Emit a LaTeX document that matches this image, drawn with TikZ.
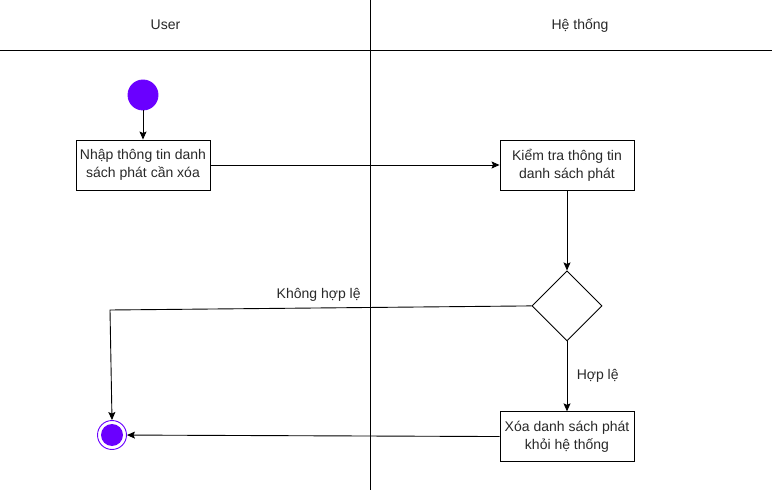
\documentclass[tikz,border=0pt]{standalone}
\usepackage{fontspec}
\setmainfont{Liberation Sans}
\usetikzlibrary{arrows,arrows.meta,positioning,shapes.geometric}
\definecolor{umlviolet}{RGB}{106,0,255}
\definecolor{labelgray}{RGB}{40,40,40}
\tikzset{act/.style={draw,rectangle,minimum width=134pt,minimum height=50pt,align=center,inner sep=2pt}}
\tikzstyle{cond}=[draw,diamond,minimum width=70pt,minimum height=70pt,inner sep=0pt]
\tikzstyle{start}=[circle,fill=umlviolet,draw=umlviolet,minimum size=30pt,inner sep=0pt]
\tikzstyle{endring}=[circle,draw=umlviolet,fill=white,minimum size=29pt,inner sep=0pt]

\begin{document}
\begin{tikzpicture}[x=1pt,y=-1pt,>={Stealth[length=8pt,width=7pt,inset=1.5pt]},line width=0.9pt,text=labelgray,font=\fontsize{14}{18}\selectfont]
    \useasboundingbox (0,0) rectangle (772,492);
    % swimlanes
    \draw (0,50) -- (772,50);
    \draw (370,0) -- (370,490);
    \node (user) at (165.5,25) {User};
    \node (sys) at (580,26) {Hệ thống};
    % user lane
    \node [start] (init) at (143,95) {};
    \node [act] (input) at (143,165) {Nhập thông tin danh\\sách phát cần xóa};
    \node [endring] (fin) at (112,435) {};
    \fill [umlviolet] (fin.center) circle (11pt);
    % system lane
    \node [act] (check) at (567,165) {Kiểm tra thông tin\\danh sách phát};
    \node [cond] (valid) [below=80pt of check] {};
    \node [act] (remove) [below=70pt of valid] {Xóa danh sách phát\\khỏi hệ thống};
    \coordinate (bend) at (110,310);
    \path[->] (init) edge (input);
    \path[->] (input) edge (check);
    \path[->] (check) edge (valid);
    \path[->] (valid) edge node [right=6pt] {Hợp lệ} (remove);
    \path[->] (remove) edge (fin);
    \draw[->] (valid.west) -- node [above=3pt,pos=0.505] {Không hợp lệ} (bend) -- (fin.north);
\end{tikzpicture}
\end{document}
